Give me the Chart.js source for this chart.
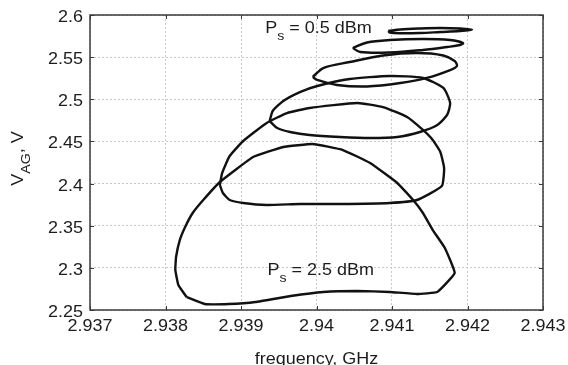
<!DOCTYPE html>
<html>
<head>
<meta charset="utf-8">
<script src="https://cdn.jsdelivr.net/npm/chart.js@4.4.1/dist/chart.umd.min.js"></script>
<style>
  html, body { margin: 0; padding: 0; background: #fff; }
  canvas { display: block; }
</style>
</head>
<body>
<canvas id="loops" width="568" height="365"></canvas>
<script>
// ---- Axis ticks ----
const freqTicks = [2.937, 2.938, 2.939, 2.94, 2.941, 2.942, 2.943];
const freqTickLabels = ['2.937', '2.938', '2.939', '2.94', '2.941', '2.942', '2.943'];
const voltTicks = [2.25, 2.3, 2.35, 2.4, 2.45, 2.5, 2.55, 2.6];
const voltTickLabels = ['2.25', '2.3', '2.35', '2.4', '2.45', '2.5', '2.55', '2.6'];

// ---- Hysteresis loops, frequency (GHz) vs V_AG (V) ----
// loop 1 is Ps = 0.5 dBm, loop 6 is Ps = 2.5 dBm
const freqLoop1 = [2.94095, 2.94111, 2.94137, 2.94164, 2.94190, 2.94206, 2.94190, 2.94164, 2.94137, 2.94111, 2.94097];
const voltLoop1 = [2.5810, 2.5828, 2.5840, 2.5846, 2.5840, 2.5826, 2.5810, 2.5798, 2.5786, 2.5783, 2.5792];

const freqLoop2 = [2.94048, 2.94067, 2.94097, 2.94141, 2.94177, 2.94194, 2.94190, 2.94173, 2.94141, 2.94097, 2.94058];
const voltLoop2 = [2.5608, 2.5674, 2.5703, 2.5715, 2.5703, 2.5668, 2.5644, 2.5620, 2.5585, 2.5555, 2.5561];

const freqLoop3 = [2.93995, 2.94009, 2.94044, 2.94088, 2.94133, 2.94168, 2.94183, 2.94186, 2.94177, 2.94146, 2.94111, 2.94067, 2.94027, 2.94001];
const voltLoop3 = [2.5264, 2.5371, 2.5442, 2.5520, 2.5549, 2.5520, 2.5454, 2.5395, 2.5347, 2.5253, 2.5193, 2.5152, 2.5170, 2.5229];

const freqLoop4 = [2.93938, 2.93942, 2.93956, 2.93978, 2.94001, 2.94044, 2.94097, 2.94141, 2.94168, 2.94177,
                   2.94173, 2.94160, 2.94137, 2.94107, 2.94071, 2.94031, 2.93991, 2.93965, 2.93948];
const voltLoop4 = [2.4742, 2.4861, 2.4980, 2.5086, 2.5158, 2.5241, 2.5276, 2.5253, 2.5134, 2.4956,
                   2.4814, 2.4695, 2.4612, 2.4553, 2.4541, 2.4553, 2.4576, 2.4612, 2.4659];

const freqLoop5 = [2.93872, 2.93875, 2.93885, 2.93903, 2.93934, 2.93961, 2.93991, 2.94054, 2.94088, 2.94120,
                   2.94141, 2.94154, 2.94164, 2.94169, 2.94166, 2.94133, 2.94097, 2.94031, 2.93978, 2.93934,
                   2.93903, 2.93885, 2.93876];
const voltLoop5 = [2.3983, 2.4125, 2.4327, 2.4505, 2.4719, 2.4837, 2.4897, 2.4956, 2.4908, 2.4790,
                   2.4636, 2.4517, 2.4375, 2.4185, 2.3971, 2.3805, 2.3770, 2.3758, 2.3758, 2.3746,
                   2.3770, 2.3805, 2.3888];

const freqLoop6 = [2.93828, 2.93817, 2.93813, 2.93814, 2.93819, 2.93826, 2.93836, 2.93850, 2.93872, 2.93916,
                   2.93956, 2.93995, 2.94035, 2.94071, 2.94107, 2.94128, 2.94141, 2.94154, 2.94170, 2.94183,
                   2.94160, 2.94133, 2.94097, 2.94054, 2.94009, 2.93966, 2.93919, 2.93884, 2.93852];
const voltLoop6 = [2.2654, 2.2797, 2.2975, 2.3129, 2.3331, 2.3485, 2.3651, 2.3805, 2.4019, 2.4315,
                   2.4434, 2.4470, 2.4398, 2.4244, 2.4007, 2.3805, 2.3651, 2.3449, 2.3236, 2.2939,
                   2.2714, 2.2690, 2.2714, 2.2726, 2.2714, 2.2666, 2.2595, 2.2571, 2.2571];

const loops = [
  [freqLoop1, voltLoop1, 0.35],
  [freqLoop2, voltLoop2, 0.35],
  [freqLoop3, voltLoop3, 0.3],
  [freqLoop4, voltLoop4, 0.2],
  [freqLoop5, voltLoop5, 0.15],
  [freqLoop6, voltLoop6, 0.1]
];

// ---- Text helpers (glyphs are a bit wide, so stretch horizontally) ----
const FONT = '"Liberation Sans", Arial, Helvetica, sans-serif';
const STRETCH = 1.09;
const TEXT_COLOR = '#1c1c1c';

function textWidth(ctx, str, size) {
  ctx.font = size + 'px ' + FONT;
  return ctx.measureText(str).width * STRETCH;
}

function drawText(ctx, str, x, y, size) {
  ctx.save();
  ctx.font = size + 'px ' + FONT;
  ctx.fillStyle = TEXT_COLOR;
  ctx.textAlign = 'left';
  ctx.textBaseline = 'alphabetic';
  ctx.translate(x, y);
  ctx.scale(STRETCH, 1);
  ctx.fillText(str, 0, 0);
  ctx.restore();
}

// runs of [text, isSubscript]; x is the left edge, y the baseline
function drawRuns(ctx, runs, x, y) {
  let cx = x;
  runs.forEach(([t, sub]) => {
    const size = sub ? 13 : 16.5;
    drawText(ctx, t, cx, sub ? y + 7 : y, size);
    cx += textWidth(ctx, t, size);
  });
  return cx - x;
}

function runsWidth(ctx, runs) {
  return runs.reduce((w, [t, sub]) => w + textWidth(ctx, t, sub ? 13 : 16.5), 0);
}

// ---- Frame, inward ticks, tick labels, axis titles, power labels ----
const framePlugin = {
  id: 'frame',
  afterDatasetsDraw(chart) {
    const { ctx, chartArea: a, scales: { x, y } } = chart;
    ctx.save();
    ctx.strokeStyle = '#3a3a3a';
    ctx.lineWidth = 1.5;
    ctx.strokeRect(a.left, a.top, a.right - a.left, a.bottom - a.top);

    ctx.lineWidth = 1;
    ctx.beginPath();
    freqTicks.forEach(v => {
      const px = Math.round(x.getPixelForValue(v)) + 0.5;
      ctx.moveTo(px, a.bottom); ctx.lineTo(px, a.bottom - 4);
      ctx.moveTo(px, a.top); ctx.lineTo(px, a.top + 4);
    });
    voltTicks.forEach(v => {
      const py = Math.round(y.getPixelForValue(v)) + 0.5;
      ctx.moveTo(a.left, py); ctx.lineTo(a.left + 4, py);
      ctx.moveTo(a.right, py); ctx.lineTo(a.right - 4, py);
    });
    ctx.stroke();
    ctx.restore();
  },
  afterDraw(chart) {
    const { ctx, chartArea: a, scales: { x, y } } = chart;

    freqTicks.forEach((v, i) => {
      const label = freqTickLabels[i];
      const w = textWidth(ctx, label, 16.5);
      drawText(ctx, label, x.getPixelForValue(v) - w / 2, a.bottom + 21, 16.5);
    });
    voltTicks.forEach((v, i) => {
      const label = voltTickLabels[i];
      const w = textWidth(ctx, label, 16.5);
      drawText(ctx, label, a.left - 7 - w, y.getPixelForValue(v) + 7, 16.5);
    });

    // x axis title
    const xt = 'frequency, GHz';
    drawText(ctx, xt, (a.left + a.right) / 2 - textWidth(ctx, xt, 16.5) / 2, 364, 16.5);

    // y axis title, rotated
    const yRuns = [['V', false], ['AG', true], [', V', false]];
    const yw = runsWidth(ctx, yRuns);
    ctx.save();
    ctx.translate(23, (a.top + a.bottom) / 2 - 4);
    ctx.rotate(-Math.PI / 2);
    drawRuns(ctx, yRuns, -yw / 2, 0);
    ctx.restore();

    // source power labels
    drawRuns(ctx, [['P', false], ['s', true], [' = 0.5 dBm', false]],
             x.getPixelForValue(2.93932), y.getPixelForValue(2.5786));
    drawRuns(ctx, [['P', false], ['s', true], [' = 2.5 dBm', false]],
             x.getPixelForValue(2.93935), y.getPixelForValue(2.2915));
  }
};

// ---- Chart ----
new Chart(document.getElementById('loops'), {
  type: 'scatter',
  data: {
    datasets: loops.map(([f, v, t]) => ({
      data: f.concat(f[0]).map((fx, i) => ({ x: fx, y: i < v.length ? v[i] : v[0] })),
      showLine: true,
      borderColor: '#111111',
      borderWidth: 2.4,
      pointRadius: 0,
      tension: t,
      fill: false
    }))
  },
  options: {
    responsive: false,
    animation: false,
    devicePixelRatio: 1,
    layout: { padding: { top: 15, right: 25, left: 0, bottom: 0 } },
    plugins: { legend: { display: false }, tooltip: { enabled: false } },
    scales: {
      x: {
        type: 'linear',
        min: 2.937,
        max: 2.943,
        afterBuildTicks: s => { s.ticks = freqTicks.map(v => ({ value: v })); },
        afterFit: s => { s.height = 55; },
        ticks: { display: false },
        grid: { color: '#c9c9c9', lineWidth: 1, drawTicks: false },
        border: { display: false, dash: [2, 2] }
      },
      y: {
        type: 'linear',
        min: 2.25,
        max: 2.6,
        afterBuildTicks: s => { s.ticks = voltTicks.map(v => ({ value: v })); },
        afterFit: s => { s.width = 90; },
        ticks: { display: false },
        grid: { color: '#c9c9c9', lineWidth: 1, drawTicks: false },
        border: { display: false, dash: [2, 2] }
      }
    }
  },
  plugins: [framePlugin]
});
</script>
</body>
</html>
